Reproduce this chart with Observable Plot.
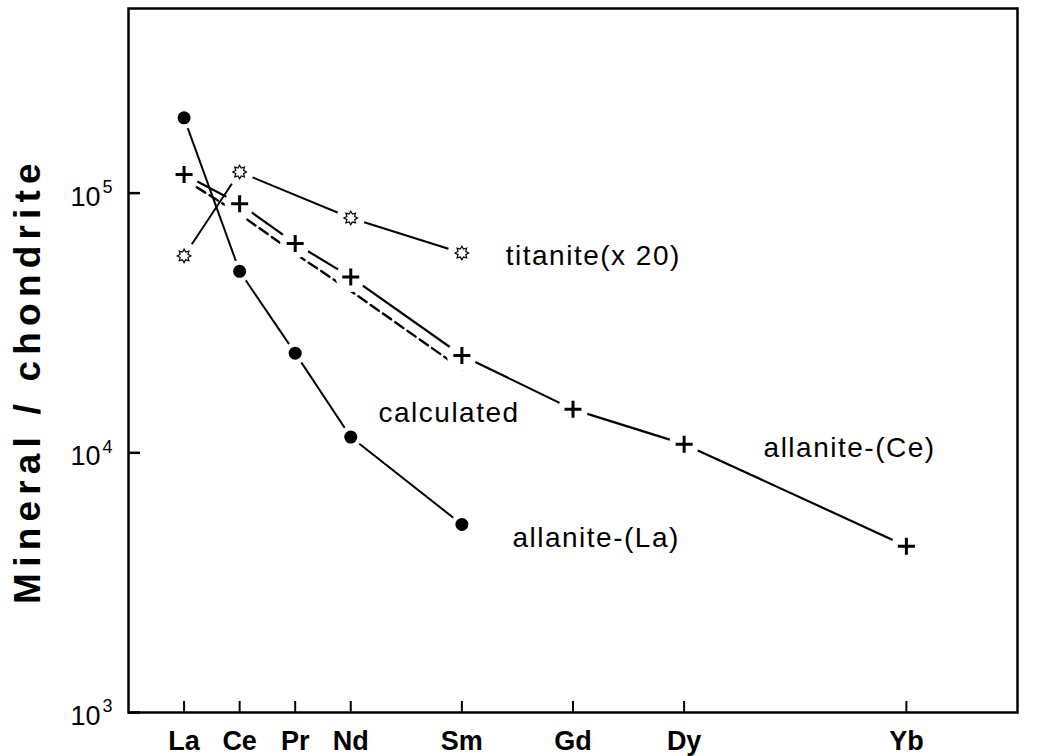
<!DOCTYPE html>
<html><head><meta charset="utf-8">
<script src="https://cdn.jsdelivr.net/npm/d3@7"></script>
<script src="https://cdn.jsdelivr.net/npm/@observablehq/plot@0.6"></script>
<style>
body{margin:0;background:#fff;}
</style></head><body><div id="chart"></div>
<script>
// REE elements and their atomic numbers (x positions)
const elements = ["La","Ce","Pr","Nd","Sm","Gd","Dy","Yb"];
const atomicNumbers = [57,58,59,60,62,64,66,70];

// Series (mineral / chondrite)
const allaniteLaElements = ["La","Ce","Pr","Nd","Sm"];
const allaniteLaValues = [195000, 50000, 24200, 11500, 5300];

const allaniteCeElements = ["La","Ce","Pr","Nd","Sm","Gd","Dy","Yb"];
const allaniteCeValues = [118000, 91000, 64000, 47500, 23700, 14700, 10800, 4370];

const calculatedElements = ["La","Ce","Pr","Nd","Sm"];
const calculatedValues = [113000, 83000, 58500, 42000, 21000];

const titaniteElements = ["La","Ce","Nd","Sm"];
const titaniteValues = [57300, 120600, 80200, 58800];

// y ticks
const yTicks = [1e3, 1e4, 1e5];
const yTickExponents = ["3","4","5"];

// annotation labels (text, x in atomic number, y in value)
const labelTexts = ["titanite(x 20)", "calculated", "allanite-(Ce)", "allanite-(La)"];
const labelZ = [62.79, 60.50, 67.43, 62.91];
const labelV = [57500, 14200, 10400, 4680];

const yTitle = "Mineral / chondrite";

const rows = (names, values) => names.map((n, i) => ({el: n, z: atomicNumbers[elements.indexOf(n)], v: values[i]}));
const laRows = rows(allaniteLaElements, allaniteLaValues);
const ceRows = rows(allaniteCeElements, allaniteCeValues);
const calcRows = rows(calculatedElements, calculatedValues);
const tiRows = rows(titaniteElements, titaniteValues);
const tickRows = elements.map((e, i) => ({el: e, z: atomicNumbers[i]}));
const labels = labelTexts.map((t, i) => ({text: t, z: labelZ[i], v: labelV[i]}));

const crossSymbol = {
  draw(ctx, size) {
    const r = Math.sqrt(size / Math.PI);
    ctx.moveTo(-r, 0); ctx.lineTo(r, 0);
    ctx.moveTo(0, -r); ctx.lineTo(0, r);
  }
};
const starSymbol = {
  draw(ctx, size) {
    const R = Math.sqrt(size / Math.PI), ri = R * 0.62, n = 8;
    for (let k = 0; k < 2 * n; k++) {
      const a = Math.PI * k / n - Math.PI / 2;
      const rr = k % 2 === 0 ? R : ri;
      const x = rr * Math.cos(a), y = rr * Math.sin(a);
      if (k === 0) ctx.moveTo(x, y); else ctx.lineTo(x, y);
    }
    ctx.closePath();
  }
};

const W = 1039, H = 756, mL = 128, mR = 22, mT = 8, mB = 44;
const plotW = W - mL - mR, plotH = H - mT - mB;

const chart = Plot.plot({
  width: W, height: H,
  marginLeft: mL, marginRight: mR, marginTop: mT, marginBottom: mB,
  x: {domain: [56, 72], axis: null},
  y: {type: "log", domain: [1000, Math.pow(10, 5.711)], axis: null},
  style: {fontFamily: "'Liberation Sans', Arial, Helvetica, sans-serif", background: "white", color: "black"},
  marks: [
    Plot.line(calcRows, {x: "z", y: "v", stroke: "black", strokeWidth: 2.4, strokeDasharray: "10,5"}),
    Plot.line(laRows, {x: "z", y: "v", stroke: "black", strokeWidth: 2}),
    Plot.line(ceRows, {x: "z", y: "v", stroke: "black", strokeWidth: 2.2}),
    Plot.line(tiRows, {x: "z", y: "v", stroke: "black", strokeWidth: 2}),
    Plot.dot(laRows, {x: "z", y: "v", r: 11, fill: "white", stroke: "none"}),
    Plot.dot(ceRows, {x: "z", y: "v", r: 15, fill: "white", stroke: "none"}),
    Plot.dot(tiRows, {x: "z", y: "v", r: 14, fill: "white", stroke: "none"}),
    Plot.dot(laRows, {x: "z", y: "v", r: 6.5, fill: "black"}),
    Plot.dot(ceRows, {x: "z", y: "v", symbol: crossSymbol, r: 8.5, fill: "none", stroke: "black", strokeWidth: 3}),
    Plot.dot(tiRows, {x: "z", y: "v", symbol: starSymbol, r: 6.8, fill: "white", stroke: "black", strokeWidth: 1.2}),
    Plot.frame({stroke: "black", strokeWidth: 2.5}),
    Plot.tickX(tickRows, {x: "z", insetTop: plotH - 11, stroke: "black", strokeWidth: 2}),
    Plot.tickY(yTicks, {y: d => d, insetRight: plotW - 12, stroke: "black", strokeWidth: 2.5}),
    Plot.text(tickRows, {x: "z", text: "el", frameAnchor: "bottom", lineAnchor: "middle", dy: 29, fontSize: 27, fontWeight: "bold", fill: "black"}),
    Plot.text(yTicks, {y: d => d, text: () => "10", frameAnchor: "left", textAnchor: "end", lineAnchor: "middle", dx: -28, dy: 4, fontSize: 27, fill: "black"}),
    Plot.text(yTicks, {y: d => d, text: (d, i) => yTickExponents[i], frameAnchor: "left", textAnchor: "start", lineAnchor: "middle", dx: -26, dy: -6, fontSize: 18, fill: "black"}),
    Plot.text([yTitle], {text: d => d, frameAnchor: "left", textAnchor: "middle", lineAnchor: "middle", rotate: -90, dx: -100, dy: 20, fontSize: 37, fontWeight: "bold", fill: "black"}),
    Plot.text(labels, {x: "z", y: "v", text: "text", textAnchor: "start", lineAnchor: "middle", fontSize: 28, fill: "black"})
  ]
});
// letter spacing for the spaced-out typesetting of the original
d3.select(chart).selectAll("text")
  .filter(function() { return this.textContent === yTitle; })
  .style("letter-spacing", "6.2px");
d3.select(chart).selectAll("text")
  .filter(function() { return labelTexts.includes(this.textContent); })
  .style("letter-spacing", "1.5px");
document.getElementById("chart").appendChild(chart);
</script>
</body></html>
